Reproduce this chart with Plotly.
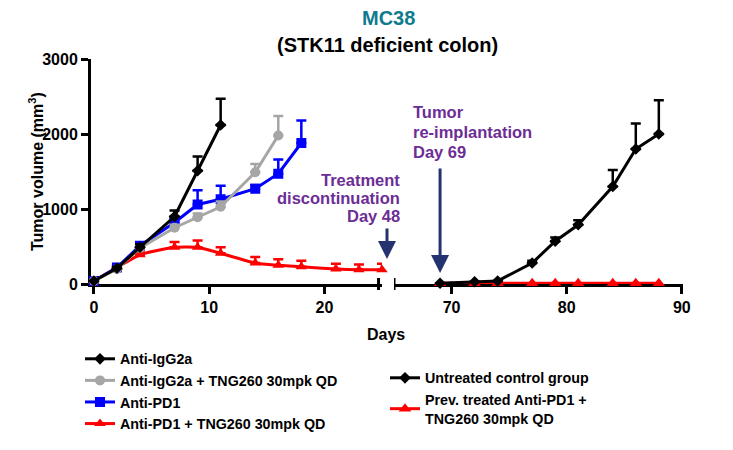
import plotly.graph_objects as go

# ---------------- data ----------------
days_igg = [0, 2, 4, 7, 9, 11]
vol_igg = [40, 210, 490, 900, 1510, 2120]
err_igg = [10, 20, 40, 80, 190, 350]

days_igg_tng = [0, 2, 4, 7, 9, 11, 14, 16]
vol_igg_tng = [40, 200, 480, 750, 890, 1030, 1490, 1980]
err_igg_tng = [10, 20, 30, 40, 50, 70, 110, 260]

days_pd1 = [0, 2, 4, 7, 9, 11, 14, 16, 18]
vol_pd1 = [40, 220, 510, 820, 1060, 1130, 1270, 1470, 1880]
err_pd1 = [10, 20, 30, 60, 190, 180, 50, 190, 300]

days_pd1_tng = [0, 2, 4, 7, 9, 11, 14, 16, 18, 21, 23, 25]
vol_pd1_tng = [40, 220, 390, 490, 490, 410, 280, 250, 230, 200, 190, 190]
err_pd1_tng = [10, 20, 30, 70, 90, 80, 80, 80, 80, 70, 70, 80]

days_ctrl = [69, 72, 74, 77, 79, 81, 84, 86, 88]
vol_ctrl = [10, 30, 40, 280, 570, 790, 1300, 1800, 2000]
err_ctrl = [0, 0, 0, 30, 50, 60, 220, 340, 450]

days_prev = [69, 72, 74, 77, 79, 81, 84, 86, 88]
vol_prev = [10, 10, 10, 10, 10, 10, 10, 10, 10]

left_ticks = [0, 10, 20]
right_ticks = [70, 80, 90]
y_ticks = [0, 1000, 2000, 3000]

names = {
    "igg": "Anti-IgG2a",
    "igg_tng": "Anti-IgG2a + TNG260 30mpk QD",
    "pd1": "Anti-PD1",
    "pd1_tng": "Anti-PD1 + TNG260 30mpk QD",
    "ctrl": "Untreated control group",
    "prev": "Prev. treated Anti-PD1 +<br>TNG260 30mpk QD",
}
treat_lines = ["Treatment", "discontinuation", "Day 48"]
tumor_lines = ["Tumor", "re-implantation", "Day 69"]

# ---------------- styling ----------------
W, H = 733, 450
FONT = "Liberation Sans, Arial, sans-serif"
PURPLE = "#6c2d96"
NAVY = "#243270"
TEAL = "#0f7b8f"

left_range = [-0.25, 25.0]
right_range = [65.0, 90.1]


def px_x(p):
    return p / W


def px_y(p):
    return 1 - p / H


def err(vals, color):
    return dict(type="data", symmetric=False, array=vals, arrayminus=[0] * len(vals),
                color=color, thickness=2.5, width=5)


fig = go.Figure()

fig.add_trace(go.Scatter(x=days_pd1_tng, y=vol_pd1_tng, name=names["pd1_tng"], mode="lines+markers",
                         line=dict(color="#ff0000", width=3, shape="spline", smoothing=0.5),
                         marker=dict(symbol="triangle-up", size=10, color="#ff0000"),
                         error_y=err(err_pd1_tng, "#ff0000"), legendrank=4, cliponaxis=False,
                         xaxis="x", yaxis="y"))
fig.add_trace(go.Scatter(x=days_pd1, y=vol_pd1, name=names["pd1"], mode="lines+markers",
                         line=dict(color="#0000ff", width=3),
                         marker=dict(symbol="square", size=10, color="#0000ff"),
                         error_y=err(err_pd1, "#0000ff"), legendrank=3, cliponaxis=False,
                         xaxis="x", yaxis="y"))
fig.add_trace(go.Scatter(x=days_igg_tng, y=vol_igg_tng, name=names["igg_tng"], mode="lines+markers",
                         line=dict(color="#a6a6a6", width=3),
                         marker=dict(symbol="circle", size=10, color="#a6a6a6"),
                         error_y=err(err_igg_tng, "#a6a6a6"), legendrank=2, cliponaxis=False,
                         xaxis="x", yaxis="y"))
fig.add_trace(go.Scatter(x=days_igg, y=vol_igg, name=names["igg"], mode="lines+markers",
                         line=dict(color="#000000", width=3),
                         marker=dict(symbol="diamond", size=9, color="#000000"),
                         error_y=err(err_igg, "#000000"), legendrank=1, cliponaxis=False,
                         xaxis="x", yaxis="y"))

fig.add_trace(go.Scatter(x=days_prev, y=vol_prev, name=names["prev"], mode="lines+markers",
                         line=dict(color="#ff0000", width=3),
                         marker=dict(symbol="triangle-up", size=11, color="#ff0000"),
                         legend="legend2", legendrank=2, cliponaxis=False,
                         xaxis="x2", yaxis="y"))
fig.add_trace(go.Scatter(x=days_ctrl, y=vol_ctrl, name=names["ctrl"], mode="lines+markers",
                         line=dict(color="#000000", width=3),
                         marker=dict(symbol="diamond", size=9, color="#000000"),
                         error_y=err(err_ctrl, "#000000"),
                         legend="legend2", legendrank=1, cliponaxis=False,
                         xaxis="x2", yaxis="y"))

axis_font = dict(family=FONT, size=16, color="black", weight="bold")
leg_font = dict(family=FONT, size=14.3, color="black", weight="bold")

common_x = dict(showline=True, linewidth=3, linecolor="black", ticks="outside", ticklen=7,
                tickwidth=3, tickcolor="black", showgrid=False, zeroline=False,
                tickfont=axis_font, layer="below traces", automargin=False)

fig.update_layout(
    width=W, height=H,
    margin=dict(l=0, r=0, t=0, b=0),
    template="none",
    paper_bgcolor="white", plot_bgcolor="white",
    font=dict(family=FONT, size=15, color="black", weight="bold"),
    xaxis=dict(domain=[px_x(91), px_x(382)], range=left_range, tickvals=left_ticks,
               anchor="y", **common_x),
    xaxis2=dict(domain=[px_x(394), px_x(683)], range=right_range, tickvals=right_ticks,
                anchor="y", **common_x),
    yaxis=dict(domain=[px_y(284), px_y(59)], range=[0, 3000], tickvals=y_ticks,
               showline=True, linewidth=3, linecolor="black", ticks="outside", ticklen=7,
               tickwidth=3, tickcolor="black", showgrid=False, zeroline=False,
               tickfont=axis_font, layer="below traces", automargin=False),
    legend=dict(x=px_x(80), y=px_y(343), xanchor="left", yanchor="top",
                font=leg_font, bgcolor="rgba(0,0,0,0)", tracegroupgap=0, traceorder="normal"),
    legend2=dict(x=px_x(385), y=px_y(362), xanchor="left", yanchor="top",
                 font=leg_font, bgcolor="rgba(0,0,0,0)", tracegroupgap=0, traceorder="normal"),
    showlegend=True,
)

# axis-break caps
cap_lo, cap_hi = px_y(290), px_y(278)
fig.add_shape(type="line", xref="x", yref="paper", x0=left_range[1] - 0.3, x1=left_range[1] - 0.3,
              y0=cap_lo, y1=cap_hi, line=dict(color="black", width=3))
fig.add_shape(type="line", xref="x2", yref="paper", x0=right_range[0], x1=right_range[0],
              y0=cap_lo, y1=cap_hi, line=dict(color="black", width=3))

# titles
fig.add_annotation(text="MC38", x=px_x(388), y=px_y(18), xref="paper", yref="paper",
                   xanchor="center", yanchor="middle", showarrow=False,
                   font=dict(family=FONT, size=20, color=TEAL, weight="bold"))
fig.add_annotation(text="(STK11 deficient colon)", x=px_x(387), y=px_y(45), xref="paper", yref="paper",
                   xanchor="center", yanchor="middle", showarrow=False,
                   font=dict(family=FONT, size=20, color="black", weight="bold"))
fig.add_annotation(text="Days", x=px_x(386), y=px_y(334), xref="paper", yref="paper",
                   xanchor="center", yanchor="middle", showarrow=False, font=axis_font)
fig.add_annotation(text="Tumor volume (mm<sup>3</sup>)", x=px_x(36), y=px_y(172), xref="paper",
                   yref="paper", xanchor="center", yanchor="middle", textangle=-90,
                   showarrow=False, font=axis_font)

# event annotations
ann_font = dict(family=FONT, size=16.5, color=PURPLE, weight="bold")
for i, line in enumerate(treat_lines):
    fig.add_annotation(text=line, x=px_x(402), y=px_y(180 + 18 * i), xref="paper", yref="paper",
                       xanchor="right", yanchor="middle", showarrow=False, font=ann_font)
for i, line in enumerate(tumor_lines):
    fig.add_annotation(text=line, x=px_x(411), y=px_y(112 + 20 * i), xref="paper", yref="paper",
                       xanchor="left", yanchor="middle", showarrow=False, font=ann_font)

fig.add_annotation(x=px_x(387), y=px_y(259), xref="paper", yref="paper", ax=0, ay=-32,
                   showarrow=True, arrowhead=2, arrowsize=1.2, arrowwidth=3, arrowcolor=NAVY, text="")
fig.add_annotation(x=69, y=px_y(273), xref="x2", yref="paper", ax=0, ay=-106,
                   showarrow=True, arrowhead=2, arrowsize=1.2, arrowwidth=3, arrowcolor=NAVY, text="")

fig.write_html("out.html", config={"displayModeBar": False},
               post_script="document.body.style.margin='0px';")
